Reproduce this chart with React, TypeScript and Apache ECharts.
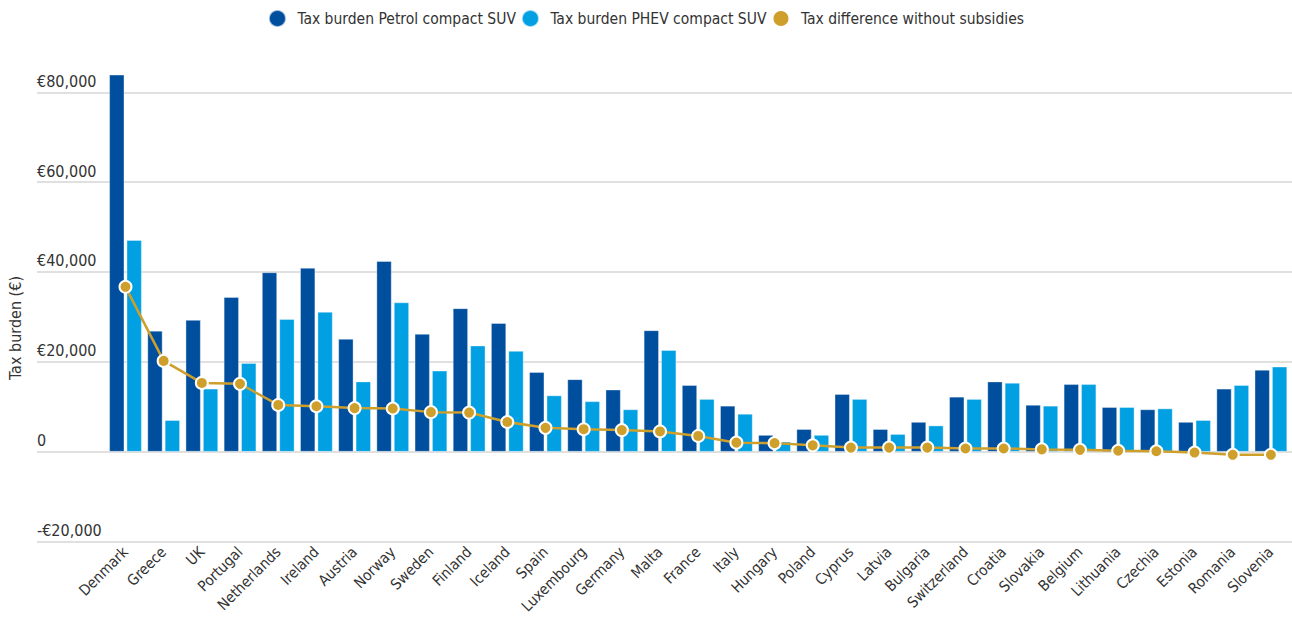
import React, { useEffect, useRef } from "react";
import * as echarts from "echarts";

const countries = [
  "Denmark", "Greece", "UK", "Portugal", "Netherlands", "Ireland", "Austria", "Norway",
  "Sweden", "Finland", "Iceland", "Spain", "Luxembourg", "Germany", "Malta", "France",
  "Italy", "Hungary", "Poland", "Cyprus", "Latvia", "Bulgaria", "Switzerland", "Croatia",
  "Slovakia", "Belgium", "Lithuania", "Czechia", "Estonia", "Romania", "Slovenia",
];

const petrolSUV = [
  83900, 26900, 29300, 34400, 39900, 40900, 25100, 42400,
  26200, 31900, 28600, 17700, 16100, 13800, 27000, 14800,
  10200, 3700, 5000, 12800, 5000, 6600, 12200, 15600,
  10400, 15000, 9900, 9400, 6600, 14000, 18200,
];

const phevSUV = [
  47100, 7000, 14000, 19700, 29500, 31100, 15600, 33200,
  18000, 23600, 22400, 12500, 11200, 9400, 22600, 11700,
  8400, 2200, 3700, 11700, 3900, 5800, 11700, 15300,
  10200, 15000, 9900, 9600, 7000, 14800, 18900,
];

const taxDifference = [
  36700, 20200, 15300, 15100, 10400, 10100, 9700, 9600,
  8800, 8700, 6600, 5300, 5000, 4800, 4500, 3500,
  2000, 1900, 1400, 900, 900, 900, 700, 700,
  500, 400, 200, 100, -200, -700, -700,
];

const yTicks = { min: -20000, max: 80000, interval: 20000 };

const FONT = "'Liberation Sans Narrow', 'DejaVu Sans Condensed', 'Noto Sans', sans-serif";
const DARK = "#004f9e";
const LIGHT = "#00a0e3";
const GOLD = "#cf9f2b";

const fmt = (v: number) => {
  if (v === 0) return "0";
  const s = Math.abs(v).toLocaleString("en-US");
  return (v < 0 ? "-" : "") + "€" + s;
};

export default function App() {
  const ref = useRef<HTMLDivElement>(null);
  useEffect(() => {
    if (!ref.current) return;
    const chart = echarts.init(ref.current, null, { renderer: "svg" });
    const top = 92.3;
    const bottom = 80.5;
    chart.setOption({
      animation: false,
      backgroundColor: "#ffffff",
      textStyle: { fontFamily: FONT },
      legend: {
        top: 4,
        left: "center",
        icon: "circle",
        itemWidth: 30,
        itemHeight: 17,
        itemGap: 5,
        textStyle: { fontSize: 15.5, color: "#333", fontFamily: FONT },
        data: [
          "Tax burden Petrol compact SUV",
          "Tax burden PHEV compact SUV",
          "Tax difference without subsidies",
        ],
      },
      graphic: [
        {
          type: "text",
          x: 15,
          y: 328,
          rotation: Math.PI / 2,
          style: {
            text: "Tax burden (€)",
            fontSize: 16,
            fontFamily: FONT,
            fill: "#333",
            textAlign: "center",
            textVerticalAlign: "middle",
          },
        },
      ],
      grid: [
        { left: 37, right: 0, top, bottom, containLabel: false },
        { left: 106.4, right: 2, top, bottom, containLabel: false },
      ],
      xAxis: [
        { type: "value", gridIndex: 0, show: false },
        {
          type: "category",
          gridIndex: 1,
          data: countries,
          axisLine: { show: false },
          axisTick: { show: false },
          axisLabel: {
            rotate: 45,
            interval: 0,
            margin: 8,
            fontSize: 15,
            color: "#333",
            fontFamily: FONT,
          },
        },
      ],
      yAxis: [
        {
          type: "value",
          gridIndex: 0,
          ...yTicks,
          axisLine: { show: false },
          axisTick: { show: false },
          splitLine: { lineStyle: { color: "#d6d6d6", width: 1.5 } },
          axisLabel: {
            inside: true,
            margin: 0,
            verticalAlign: "bottom",
            padding: [0, 0, 3, 0],
            fontSize: 16,
            color: "#333",
            fontFamily: FONT,
            formatter: (v: number) => fmt(v),
          },
        },
        {
          type: "value",
          gridIndex: 1,
          ...yTicks,
          show: false,
          splitLine: { show: false },
        },
      ],
      series: [
        {
          name: "Tax burden Petrol compact SUV",
          type: "bar",
          xAxisIndex: 1,
          yAxisIndex: 1,
          data: petrolSUV,
          barWidth: 15,
          barGap: "16%",
          clip: false,
          itemStyle: { color: DARK, borderColor: "rgba(255,255,255,0.6)", borderWidth: 0.6 },
        },
        {
          name: "Tax burden PHEV compact SUV",
          type: "bar",
          xAxisIndex: 1,
          yAxisIndex: 1,
          data: phevSUV,
          barWidth: 15,
          barGap: "16%",
          clip: false,
          itemStyle: { color: LIGHT, borderColor: "rgba(255,255,255,0.6)", borderWidth: 0.6 },
        },
        {
          name: "Tax difference without subsidies",
          type: "line",
          xAxisIndex: 1,
          yAxisIndex: 1,
          data: taxDifference,
          symbol: "circle",
          symbolSize: 12,
          z: 5,
          lineStyle: { color: GOLD, width: 2.5 },
          itemStyle: { color: GOLD, borderColor: "#ffffff", borderWidth: 2 },
        },
      ],
    });
    return () => chart.dispose();
  }, []);
  return (
    <div
      ref={ref}
      style={{ position: "fixed", left: 0, top: 0, width: 1292, height: 622 }}
    />
  );
}
